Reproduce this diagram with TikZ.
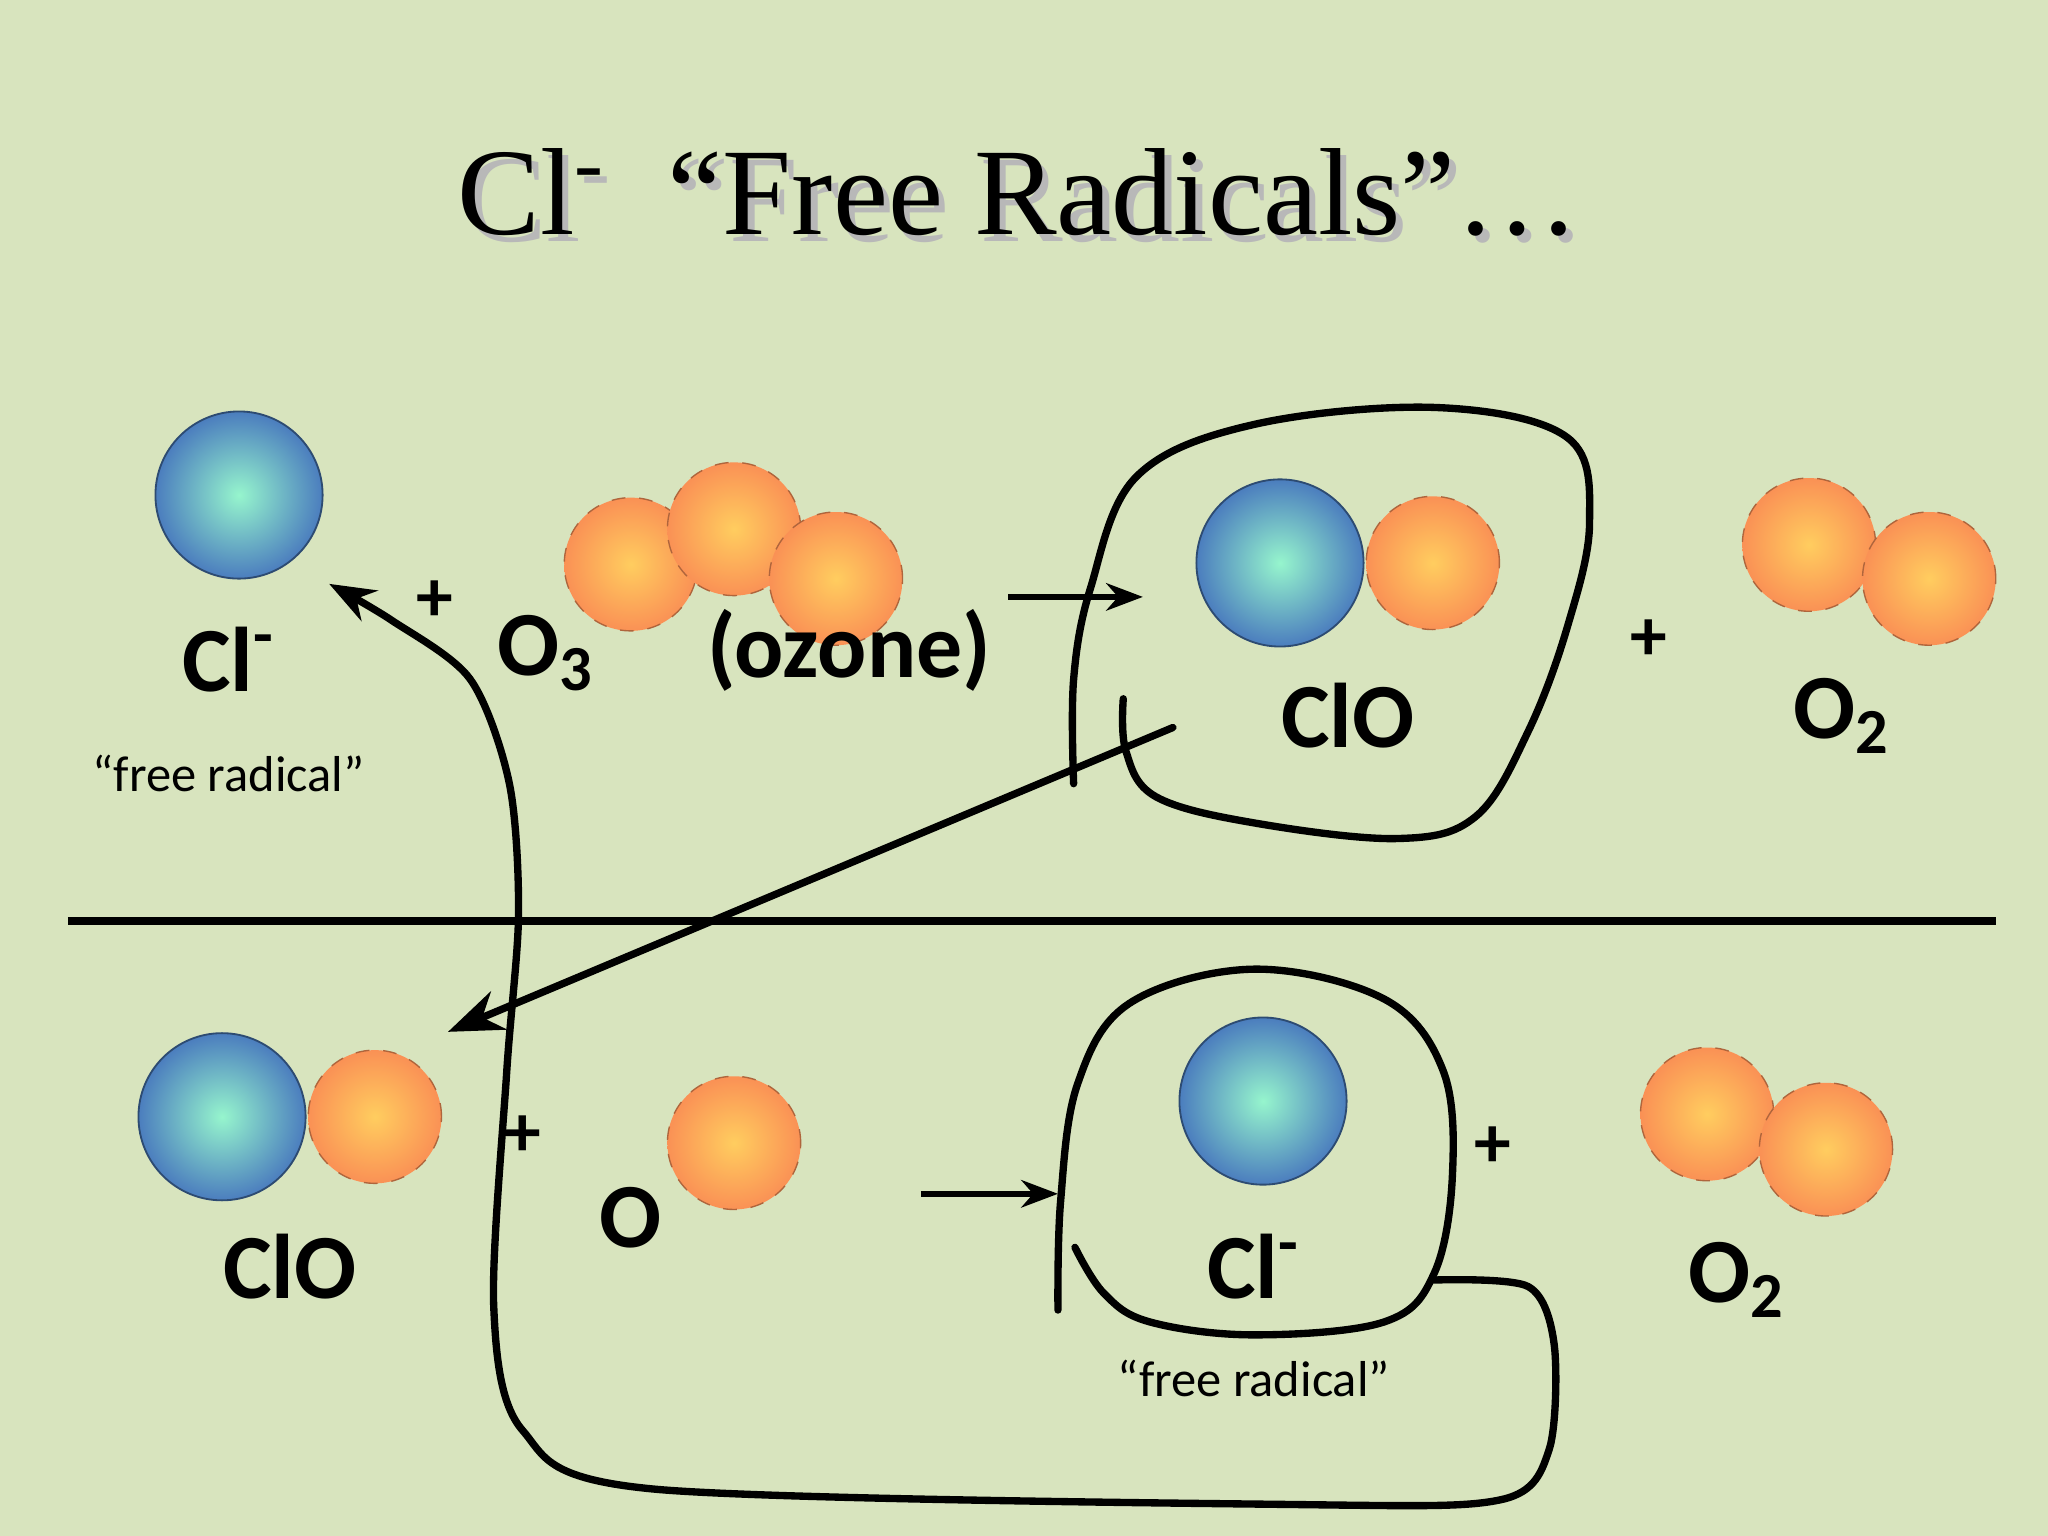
\documentclass[tikz,border=0pt]{standalone}
\usepackage{fontspec}
\setmainfont{Carlito}
\newfontfamily\titlefont{Liberation Serif}
\usetikzlibrary{arrows.meta}
\definecolor{bg}{RGB}{216,228,190}
\definecolor{bluein}{RGB}{150,245,205}
\definecolor{blueout}{RGB}{75,125,190}
\definecolor{orin}{RGB}{255,205,95}
\definecolor{orout}{RGB}{250,145,85}
\tikzset{
  bluesph/.style={circle,minimum size=12.8mm,inner sep=0pt,draw=blueout!60!black,line width=0.4pt,shade,inner color=bluein,outer color=blueout},
  orsph/.style={circle,minimum size=10.2mm,inner sep=0pt,draw=orout!70!black,dashed,line width=0.3pt,shade,inner color=orin,outer color=orout},
  lbl/.style={font=\fontsize{20}{24}\selectfont\bfseries},
  small/.style={font=\fontsize{11}{13}\selectfont},
  plus/.style={font=\fontsize{16}{18}\selectfont\bfseries},
  ln/.style={line width=1.6pt,line cap=round},
  ttl/.style={font=\titlefont\fontsize{27}{32}\selectfont},
}
\newcommand{\ttltext}{Cl\textsuperscript{-} \ “Free Radicals”\dots}
\begin{document}
\begin{tikzpicture}[x=0.1mm,y=-0.1mm]
\useasboundingbox (0,0) rectangle (1568,1176);
\fill[bg] (0,0) rectangle (1568,1176);
\node[ttl] (title) at (780,150) {\makebox[0pt][l]{\hspace{0.5mm}\raisebox{-0.6mm}{\textcolor{black!28}{\ttltext}}}\ttltext};
% top row
\node[bluesph] (cl1) at (183,379) {};
\node[lbl] (cl1l) at (175,505) {Cl\textsuperscript{-}};
\node[small] (fr1) at (175,592) {“free radical”};
\node[plus] (p1) at (333,460) {+};
\node[lbl] (o3l) at (418,500) {O\textsubscript{3}};
\node[orsph] (oz1) at (483,432) {};
\node[orsph] (oz2) at (562,405) {};
\node[orsph] (oz3) at (640,443) {};
\node[lbl] (ozl) at (650,498) {(ozone)};
\coordinate (a1s) at (772,457); \coordinate (a1e) at (875,457);
\draw[line width=1.2pt,-{Stealth[length=8pt]}] (a1s) -- (a1e);
\node[bluesph] (clo1b) at (980,431) {};
\node[orsph] (clo1o) at (1097,431) {};
\node[lbl] (clo1l) at (1032,548) {ClO};
\node[plus] (p2) at (1262,490) {+};
\node[orsph] (o2a) at (1385,417) {};
\node[orsph] (o2b) at (1477,443) {};
\node[lbl] (o2l) at (1410,548) {O\textsubscript{2}};
\draw[ln] plot[smooth,tension=0.6] coordinates {(822,600) (822,520) (835,450) (870,365) (960,325) (1100,312) (1200,335) (1217,400) (1200,480) (1170,560) (1130,625) (1070,642) (960,630) (885,610) (862,575) (860,535)};
\coordinate (a2s) at (898,557); \coordinate (a2e) at (343,790);
\draw[ln,-{Stealth[length=12pt]}] (a2s) -- (a2e);
% divider
\coordinate (h1) at (52,705); \coordinate (h2) at (1528,705);
\draw[line width=1.6pt] (h1) -- (h2);
% bottom row
\node[bluesph] (clo2b) at (170,855) {};
\node[orsph] (clo2o) at (287,855) {};
\node[lbl] (clo2l) at (222,970) {ClO};
\node[plus] (p3) at (400,870) {+};
\node[lbl] (ol) at (483,932) {O};
\node[orsph] (o1) at (562,875) {};
\coordinate (a3s) at (705,914); \coordinate (a3e) at (810,914);
\draw[line width=1.2pt,-{Stealth[length=8pt]}] (a3s) -- (a3e);
\draw[ln] plot[smooth,tension=0.6] coordinates {(810,1003) (812,920) (825,830) (865,768) (960,742) (1060,765) (1105,820) (1112,900) (1098,975) (1060,1012) (960,1022) (880,1012) (845,990) (823,955)};
\node[bluesph] (cl2) at (967,843) {};
\node[lbl] (cl2l) at (960,970) {Cl\textsuperscript{-}};
\node[small] (fr2) at (960,1055) {“free radical”};
\node[plus] (p4) at (1143,878) {+};
\node[orsph] (o2c) at (1307,853) {};
\node[orsph] (o2d) at (1398,880) {};
\node[lbl] (o2l2) at (1330,980) {O\textsubscript{2}};
\draw[ln,-{Stealth[length=10pt]}] plot[smooth,tension=0.5] coordinates {(1098,980) (1170,985) (1190,1030) (1186,1110) (1150,1148) (1000,1152) (500,1140) (400,1095) (378,1000) (388,820) (397,700) (390,600) (360,520) (300,475) (252,447)};
\end{tikzpicture}
\end{document}
